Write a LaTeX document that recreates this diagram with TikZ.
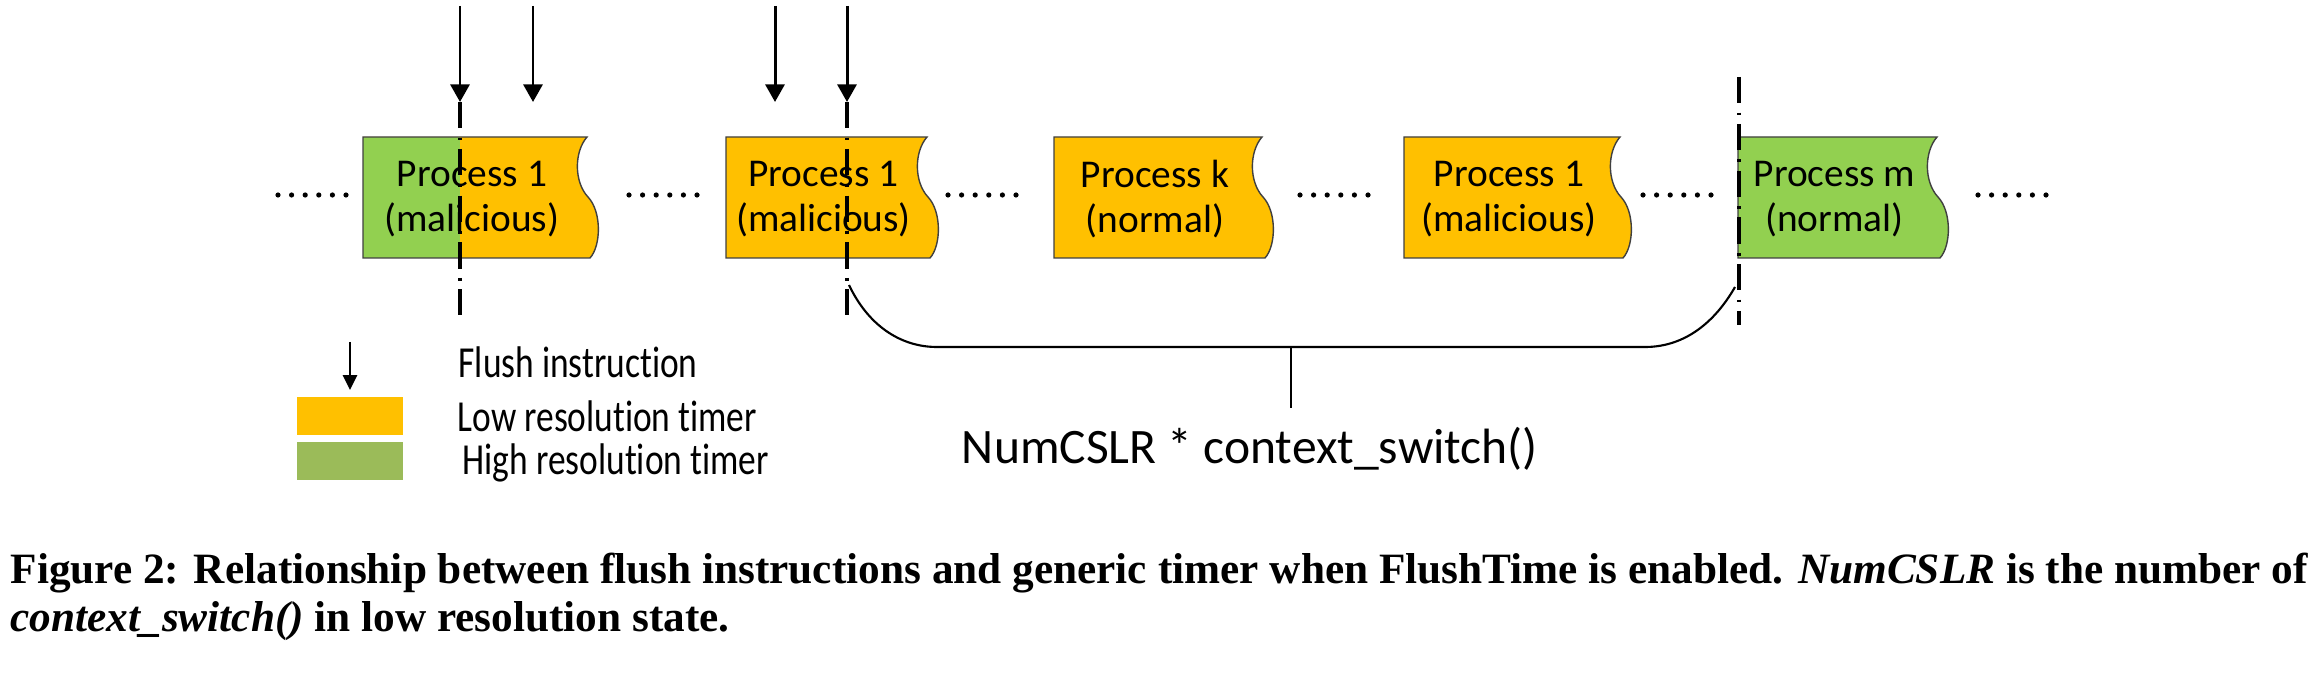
\documentclass[tikz,border=0pt]{standalone}
\usepackage{fontspec}
\setmainfont{Carlito}[Ligatures=CommonOff]
\newfontfamily\legendfont[FakeStretch=0.8, Ligatures=CommonOff]{Carlito}
\newfontfamily\captionfont{Liberation Serif}
\usetikzlibrary{arrows.meta}
\definecolor{lowres}{HTML}{FFC000}
\definecolor{highres}{HTML}{92D050}
\definecolor{keygreen}{HTML}{9BBB59}
\definecolor{outline}{HTML}{404040}
\tikzset{
  proc/.style={align=center, inner sep=0pt, font=\fontsize{11.2}{12.8}\selectfont},
  flushline/.style={line width=0.85pt, -{Triangle[width=5.4pt,length=5pt]}},
  cutline/.style={line width=0.9pt, dash pattern=on 7.5pt off 2.6pt on 0.8pt off 2.4pt},
  keybox/.style={minimum width=1.06cm, minimum height=0.37cm, inner sep=0pt},
  keytext/.style={anchor=base west, inner sep=0pt, font=\legendfont\fontsize{12.6}{14}\selectfont},
}
\newcommand{\proctape}[2]{(#1,137) -- (#2,137) .. controls (#2-13,152) and (#2-13,182) .. (#2+1,197) .. controls (#2+15,212) and (#2+14,246) .. (#2+3,258) -- (#1,258) -- cycle}
\newcommand{\procbox}[5]{\filldraw[fill=#4, draw=outline, line width=0.4pt] \proctape{#2}{#3}; \node[proc] (#1) at ({(#2+#3)/2-3},199) {#5};}
\newcommand{\flusharrow}[2]{\coordinate (#1s) at (#2,6); \coordinate (#1e) at (#2,102); \draw[flushline] (#1s) -- (#1e);}
\newcommand{\switchcut}[4]{\coordinate (#1t) at (#2,#3); \coordinate (#1b) at (#2,#4); \draw[cutline] (#1t) -- (#1b);}
\newcommand{\idledots}[1]{\foreach \k in {0,...,5} \fill (#1+13.6*\k,195) circle[radius=2.6];}

\begin{document}
\begin{tikzpicture}[x=0.01cm, y=-0.01cm]
  \useasboundingbox (0,0) rectangle (2320,676);
  \fill[lowres] \proctape{363}{587}; \fill[highres] (363,137) rectangle (460,258);
  \draw[outline, line width=0.4pt] \proctape{363}{587};
  \node[proc] (P1) at (472,199) {Process 1\\(malicious)};
  \procbox{P2}{726}{927}{lowres}{Process 1\\(malicious)}
  \procbox{Pk}{1054}{1262}{lowres}{Process k\\(normal)}
  \procbox{P3}{1404}{1620}{lowres}{Process 1\\(malicious)}
  \procbox{Pm}{1738}{1937}{highres}{Process m\\(normal)}
  \idledots{278} \idledots{629} \idledots{948} \idledots{1300} \idledots{1643} \idledots{1978}
  \flusharrow{fa}{460} \flusharrow{fb}{533} \flusharrow{fc}{775} \flusharrow{fd}{847}
  \switchcut{ca}{460}{102}{318} \switchcut{cb}{847}{102}{318} \switchcut{cc}{1739}{77}{325}
  \coordinate (bl) at (849,285); \coordinate (br) at (1735,287);
  \coordinate (bm) at (1291,347); \coordinate (bs) at (1291,408);
  \draw[line width=0.6pt] (bl) .. controls (868,325) and (900,347) .. (937,347) -- (1645,347) .. controls (1685,347) and (1715,322) .. (br);
  \draw[line width=0.45pt] (bm) -- (bs);
  \node[anchor=base, inner sep=0pt, font=\fontsize{14.1}{17}\selectfont] (span) at (1250,463) {NumCSLR * context\_switch()};
  \coordinate (ks) at (350,342); \coordinate (ke) at (350,390);
  \draw[line width=0.6pt, -{Triangle[width=4pt,length=4.2pt]}] (ks) -- (ke);
  \node[keybox, fill=lowres] (klow) at (350,416) {};
  \node[keybox, fill=keygreen] (khigh) at (350,461) {};
  \node[keytext] (tflush) at (458,378) {Flush instruction};
  \node[keytext] (tlow) at (457,432) {Low resolution timer};
  \node[keytext] (thigh) at (462,475) {High resolution timer};
  \node[anchor=north west, inner sep=0pt, text width=22.96cm, align=justify, font=\captionfont\bfseries\fontsize{12.3}{13.8}\selectfont] (cap) at (10,552) {Figure 2: Relationship between flush instructions and generic timer when FlushTime is enabled. \textit{NumCSLR} is the number of\linebreak \textit{context\_switch()} in low resolution state.};
\end{tikzpicture}
\end{document}
